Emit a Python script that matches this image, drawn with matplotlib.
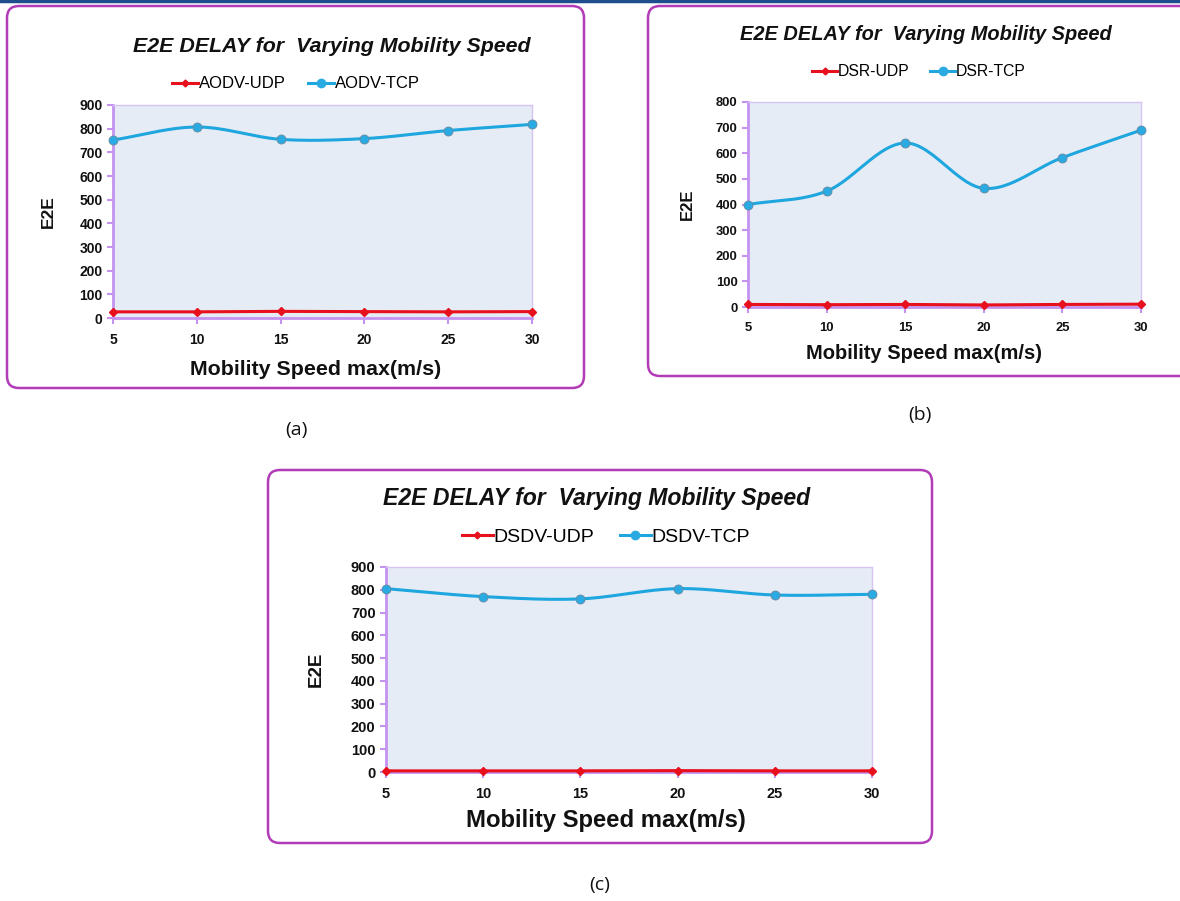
import numpy as np
import matplotlib.pyplot as plt
from matplotlib.patches import FancyBboxPatch

plt.rcParams['font.family'] = ['Liberation Sans', 'DejaVu Sans']

speeds = [5, 10, 15, 20, 25, 30]

aodv_udp = [26, 26, 28, 27, 26, 27]
aodv_tcp = [752, 807, 755, 758, 792, 818]

dsr_udp = [10, 9, 10, 8, 10, 11]
dsr_tcp = [400, 452, 640, 463, 583, 690]

dsdv_udp = [5, 5, 5, 6, 5, 5]
dsdv_tcp = [805, 770, 760, 805, 777, 780]

title = 'E2E DELAY for  Varying Mobility Speed'
xlabel = 'Mobility Speed max(m/s)'
ylabel = 'E2E'

W, H = 1180, 901
RED = '#e8101c'
BLUE = '#1ea6df'
FRAME = '#b23cb8'
PLOTBG = '#e6ecf5'
SPINE = '#c493f0'


def smooth(x, y, n=30):
    # catmull-rom style curve through the points, like excel smoothed lines
    x = np.asarray(x, float)
    y = np.asarray(y, float)
    px = np.concatenate([[2 * x[0] - x[1]], x, [2 * x[-1] - x[-2]]])
    py = np.concatenate([[2 * y[0] - y[1]], y, [2 * y[-1] - y[-2]]])
    xs, ys = [], []
    t = np.linspace(0, 1, n)
    for i in range(1, len(px) - 2):
        for p, out in ((px, xs), (py, ys)):
            p0, p1, p2, p3 = p[i - 1], p[i], p[i + 1], p[i + 2]
            m1 = (p2 - p0) / 6
            m2 = (p3 - p1) / 6
            c = ((1 - t) ** 3 * p1 + 3 * (1 - t) ** 2 * t * (p1 + m1)
                 + 3 * (1 - t) * t ** 2 * (p2 - m2) + t ** 3 * p2)
            out.extend(c)
    return xs, ys


fig = plt.figure(figsize=(W / 100, H / 100), dpi=100)

# background layer in pixel coordinates
bg = fig.add_axes([0, 0, 1, 1])
bg.set_xlim(0, W)
bg.set_ylim(H, 0)
bg.axis('off')
bg.axhline(1, color='#1f4e8c', lw=2.5)


def frame(x0, y0, x1, y1):
    bg.add_patch(FancyBboxPatch((x0, y0), x1 - x0, y1 - y0,
                                boxstyle='round,pad=0,rounding_size=12',
                                fc='white', ec=FRAME, lw=1.8))


def panel(box, ymax, udp, tcp, names, sz, pos):
    # sz: title, legend, ticks, xlabel, ylabel font sizes
    # pos: (title x, y), (legend x, y), (xlabel x, y), ylabel x
    l, t, r, b = box
    f_title, f_leg, f_tick, f_xl, f_yl = sz
    (tx, ty), (lx, ly), (xx, xy), yx = pos
    ax = fig.add_axes([l / W, 1 - b / H, (r - l) / W, (b - t) / H])
    ax.set_facecolor(PLOTBG)
    sx, sy = smooth(speeds, tcp)
    ax.plot(speeds, udp, color=RED, lw=2.2, marker='D', ms=4,
            mfc=RED, mec=RED, clip_on=False, zorder=3)
    ax.plot(sx, sy, color=BLUE, lw=2.2, clip_on=False, zorder=3)
    ax.plot(speeds, tcp, color=BLUE, lw=0, marker='o', ms=6.5,
            mfc='#2aaae2', mec='#6a8aa0', mew=0.6, clip_on=False, zorder=4)
    h1, = ax.plot([], [], color=RED, lw=2.2, marker='D', ms=3.5,
                  mfc=RED, mec=RED, label=names[0])
    h2, = ax.plot([], [], color=BLUE, lw=2.2, marker='o', ms=6,
                  mfc='#2aaae2', mec='#2aaae2', label=names[1])
    ax.set_xlim(speeds[0], speeds[-1])
    ax.set_ylim(0, ymax)
    ax.set_xticks(speeds)
    ax.set_yticks(np.arange(0, ymax + 1, 100))
    for s in ('left', 'bottom'):
        ax.spines[s].set_color(SPINE)
        ax.spines[s].set_linewidth(2)
    for s in ('top', 'right'):
        ax.spines[s].set_color('#d6c4f2')
        ax.spines[s].set_linewidth(1)
    ax.tick_params(axis='both', colors=SPINE, length=4, width=1.5,
                   labelcolor='#111111', labelsize=f_tick)
    ax.tick_params(axis='x', pad=7)
    for lab in ax.get_xticklabels() + ax.get_yticklabels():
        lab.set_fontweight('bold')
    fig.text(tx / W, 1 - ty / H, title, ha='center', va='center',
             fontsize=f_title, fontweight='bold', style='italic', color='#111111')
    fig.text(xx / W, 1 - xy / H, xlabel, ha='center', va='center',
             fontsize=f_xl, fontweight='bold', color='#111111')
    fig.text(yx / W, 1 - (t + b) / 2 / H, ylabel, ha='center', va='center',
             rotation=90, fontsize=f_yl, fontweight='bold', color='#111111')
    fig.legend(handles=[h1, h2], loc='center', bbox_to_anchor=(lx / W, 1 - ly / H),
               ncol=2, frameon=False, fontsize=f_leg,
               handlelength=1.6, handletextpad=0.05, columnspacing=1.3)
    return ax


frame(7, 6, 584, 388)
panel((113, 105, 532, 318), 900, aodv_udp, aodv_tcp, ['AODV-UDP', 'AODV-TCP'],
      (15.4, 12, 10, 15.4, 12.5),
      ((332, 46), (296, 84), (316, 369), 48))

frame(648, 6, 1200, 376)
panel((748, 102, 1141, 307), 800, dsr_udp, dsr_tcp, ['DSR-UDP', 'DSR-TCP'],
      (14.4, 11.3, 9.4, 14.5, 12),
      ((926, 35), (919, 72), (924, 353), 687))

frame(268, 470, 932, 843)
panel((386, 567, 872, 772), 900, dsdv_udp, dsdv_tcp, ['DSDV-UDP', 'DSDV-TCP'],
      (16.6, 14, 10.5, 17.2, 13.5),
      ((597, 498), (606, 537), (606, 820), 316))

for lab, x, y in (('(a)', 296, 430), ('(b)', 920, 415), ('(c)', 600, 885)):
    fig.text(x / W, 1 - y / H, lab, ha='center', va='center', fontsize=14,
             color='#111111', family=['Open Sans', 'DejaVu Sans'])

fig.savefig('out.png', dpi=100)
